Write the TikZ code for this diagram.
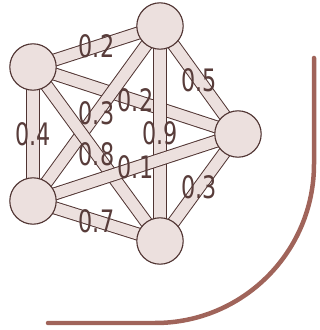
\documentclass[tikz,border=0pt]{standalone}
\usepackage{fontspec}
\usepackage{xcolor}
\usepackage{tikz}
\usetikzlibrary{backgrounds}
\newfontfamily\weightfont[FakeStretch=0.72]{DejaVu Sans}
\definecolor{edgeline}{RGB}{80,52,50}
\definecolor{vertexfill}{RGB}{236,224,222}
\definecolor{weighttext}{RGB}{88,60,58}
\definecolor{frameline}{RGB}{160,100,90}

\begin{document}
\begin{tikzpicture}[
    vertex/.style={circle, draw=edgeline, fill=vertexfill, line width=0.8pt, minimum size=1.16cm, inner sep=0pt},
    link/.style={draw=edgeline, line width=0.7pt, double=vertexfill, double distance=0.28cm},
    weight/.style={font=\weightfont\fontsize{22}{22}\selectfont, text=weighttext, inner sep=0pt}
]
\useasboundingbox (0,0) rectangle (8,8.25);

% Vertices
\node[vertex] (a) at (0.825,6.575) {};
\node[vertex] (b) at (4.0,7.6) {};
\node[vertex] (c) at (5.95,4.9) {};
\node[vertex] (d) at (0.825,3.225) {};
\node[vertex] (e) at (4.0,2.225) {};

% Weighted links
\begin{scope}[on background layer]
\draw[link] (a.center) -- node[weight] {0.2} (b.center);
\draw[link] (a.center) -- node[weight] {0.4} (d.center);
\draw[link] (a.center) -- node[weight] {0.2} (c.center);
\draw[link] (b.center) -- node[weight] {0.3} (d.center);
\draw[link] (a.center) -- node[weight] {0.8} (e.center);
\draw[link] (b.center) -- node[weight] {0.5} (c.center);
\draw[link] (b.center) -- node[weight] {0.9} (e.center);
\draw[link] (d.center) -- node[weight] {0.1} (c.center);
\draw[link] (c.center) -- node[weight] {0.3} (e.center);
\draw[link] (d.center) -- node[weight] {0.7} (e.center);
\end{scope}

% Frame
\draw[frameline, line width=3.2pt, line cap=round, rounded corners=3.97cm] (1.2,0.175) -| (7.85,6.8);

\end{tikzpicture}
\end{document}
